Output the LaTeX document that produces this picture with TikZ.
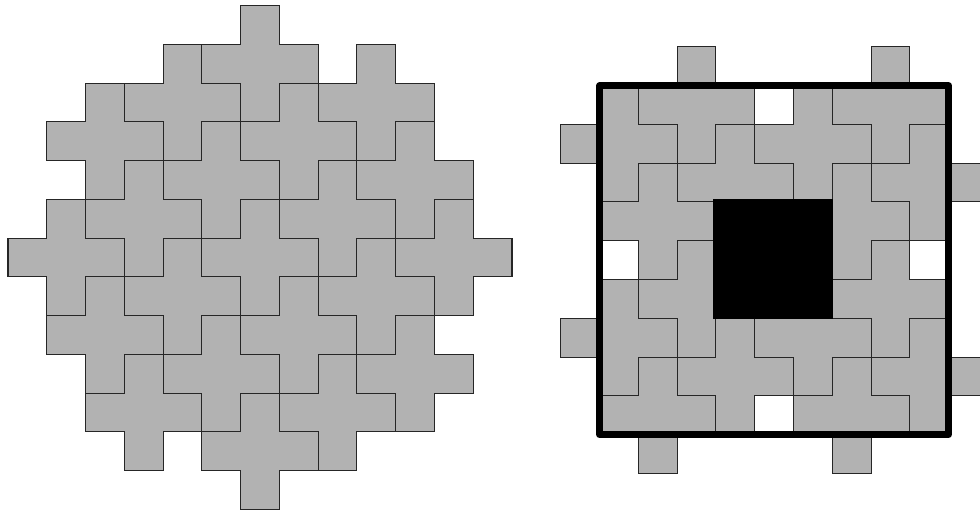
\documentclass[tikz,border=0pt]{standalone}
\begin{document}
\begin{tikzpicture}[x=1pt,y=-1pt,
  tile/.style={fill=black!30,draw=black!85,line width=1.1pt,line join=miter},
  hole/.style={fill=black},
  frame/.style={draw=black,line width=6.5pt,line join=round}]
\useasboundingbox (0,0) rectangle (980,512);
\clip (0,0) rectangle (980,512);
% left patch of crosses
\begin{scope}[shift={(8pt,-5.7pt)},x=38.77pt,y=-38.74pt]
  \foreach \c/\r in {6/6,8/5,10/4,4/7,2/8,7/8,9/7,11/6,5/9,3/10,5/4,7/3,9/2,3/5,1/6,8/10,10/9,6/11,4/2,2/3,6/1}{
    \path[tile,shift={(\c,\r)}] (0,-1) -- (1,-1) -- (1,0) -- (2,0) -- (2,1) -- (1,1) -- (1,2) -- (0,2) -- (0,1) -- (-1,1) -- (-1,0) -- (0,0) -- cycle;
  }
\end{scope}
% right board
\begin{scope}[shift={(599.5pt,-85.5pt)},x=38.8pt,y=-38.8pt]
  \foreach \c/\r in {2/0,7/0,0/1,5/1,3/2,8/2,1/3,6/3,2/5,7/5,0/6,5/6,3/7,8/7,1/8,6/8}{
    \path[tile,shift={(\c,\r)}] (0,-1) -- (1,-1) -- (1,0) -- (2,0) -- (2,1) -- (1,1) -- (1,2) -- (0,2) -- (0,1) -- (-1,1) -- (-1,0) -- (0,0) -- cycle;
  }
\end{scope}
\path[hole] (713.3,199.3) rectangle (833.3,319.3);
\path[frame] (599.5,85.5) rectangle (948.7,434.7);
\end{tikzpicture}
\end{document}
